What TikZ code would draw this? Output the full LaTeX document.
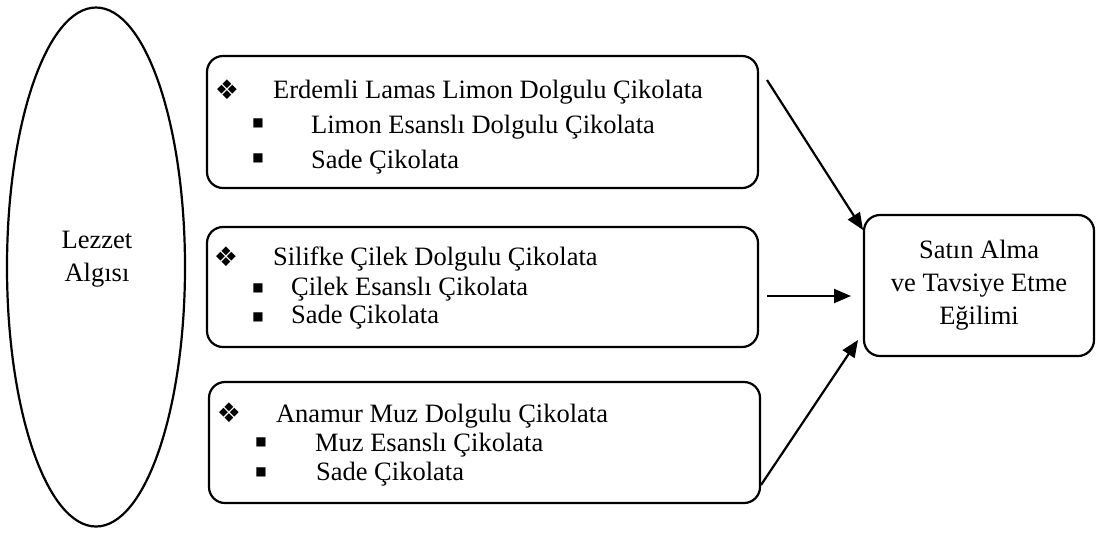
\documentclass[tikz,border=0pt]{standalone}
\usepackage{fontspec}
\setmainfont{Liberation Serif}
\newfontfamily\symfont{DejaVu Sans}
\usetikzlibrary{shapes.geometric,arrows.meta}
\begin{document}
\begin{tikzpicture}[x=0.5pt,y=-0.5pt,line width=1.1pt,
  txt/.style={anchor=base west,inner sep=0pt,font=\fontsize{13.25}{16.5}\selectfont},
  ctxt/.style={align=center,inner sep=0pt,font=\fontsize{13.25}{16.5}\selectfont},
  grp/.style={draw,rounded corners=8pt,inner sep=0pt},
  dia/.style={inner sep=0pt,font=\symfont\fontsize{13.5}{15}\selectfont},
  sq/.style={inner sep=0pt,font=\symfont\fontsize{6}{7}\selectfont},
  arr/.style={-{Triangle[length=8.5pt,width=7pt]},line width=1.1pt}
]
\useasboundingbox (0,0) rectangle (1096,532);
% ellipse
\node[draw,ellipse,inner sep=0pt,minimum width=89pt,minimum height=259.5pt] (lez) at (96,267) {};
\node[ctxt] (lezt) at (97,259) {Lezzet\\Algısı};
% boxes
\node[grp,minimum width=275.5pt,minimum height=66pt] (b1) at (482.5,122) {};
\node[grp,minimum width=275.5pt,minimum height=60pt] (b2) at (482.5,287) {};
\node[grp,minimum width=275.5pt,minimum height=60.5pt] (b3) at (484.5,442.5) {};
\node[grp,minimum width=115pt,minimum height=70.5pt,ctxt] (res) at (979,285.5) {Satın Alma\\ve Tavsiye Etme\\Eğilimi};
% box 1
\node[dia] (d1) at (227,90) {❖};
\node[txt] (t1) at (272,98) {Erdemli Lamas Limon Dolgulu Çikolata};
\node[sq] (s11) at (258,123) {■};
\node[txt] (t11) at (310,133) {Limon Esanslı Dolgulu Çikolata};
\node[sq] (s12) at (258,158) {■};
\node[txt] (t12) at (310,168) {Sade Çikolata};
% box 2
\node[dia] (d2) at (226,257) {❖};
\node[txt] (t2) at (272,265) {Silifke Çilek Dolgulu Çikolata};
\node[sq] (s21) at (258,288) {■};
\node[txt] (t21) at (290,295) {Çilek Esanslı Çikolata};
\node[sq] (s22) at (258,317) {■};
\node[txt] (t22) at (290,323) {Sade Çikolata};
% box 3
\node[dia] (d3) at (229,413) {❖};
\node[txt] (t3) at (275,422) {Anamur Muz Dolgulu Çikolata};
\node[sq] (s31) at (261,442) {■};
\node[txt] (t31) at (314,451) {Muz Esanslı Çikolata};
\node[sq] (s32) at (261,472) {■};
\node[txt] (t32) at (315,480) {Sade Çikolata};
% arrows
\coordinate (a1s) at (767,80);
\coordinate (a1e) at (863,230);
\coordinate (a2s) at (767,296);
\coordinate (a2e) at (851,296);
\coordinate (a3s) at (761,485);
\coordinate (a3e) at (858,340);
\draw[arr] (a1s) -- (a1e);
\draw[arr] (a2s) -- (a2e);
\draw[arr] (a3s) -- (a3e);
\end{tikzpicture}
\end{document}
